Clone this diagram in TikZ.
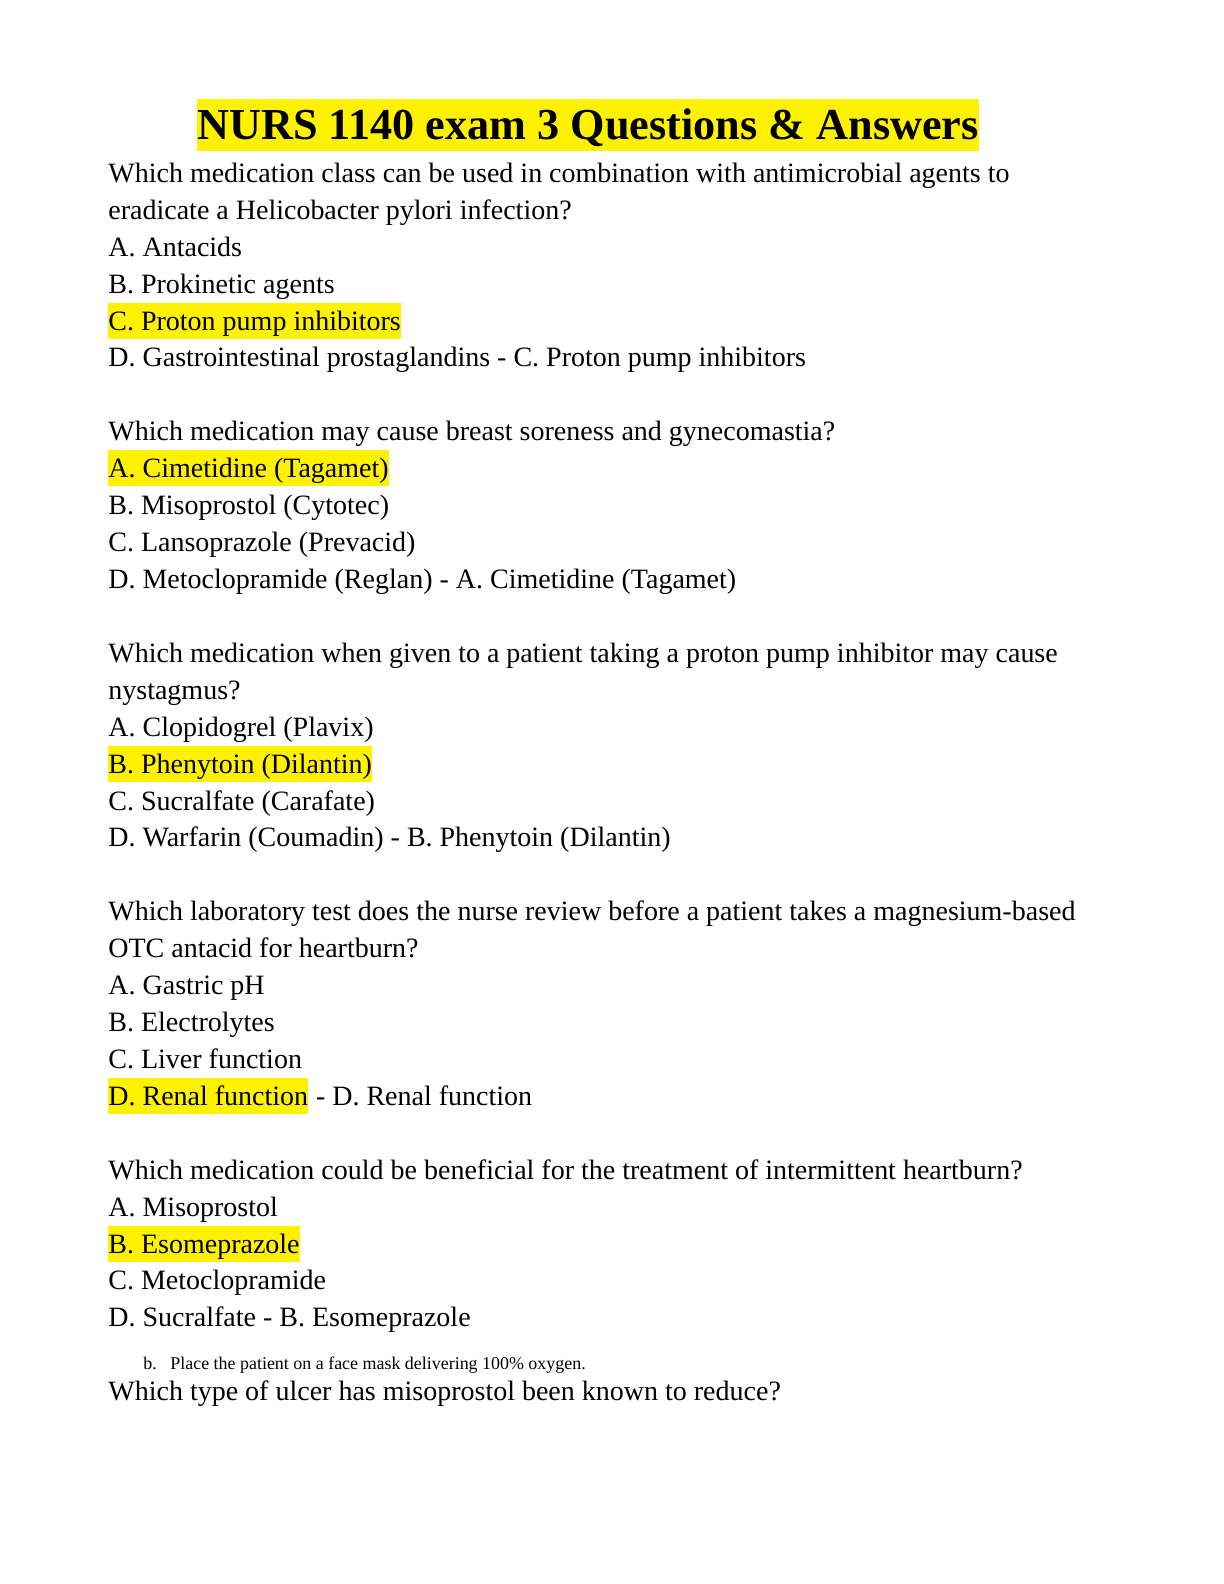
\documentclass[tikz,border=0pt]{standalone}
\usepackage{fontspec}
\setmainfont{Liberation Serif}
\begin{document}
\begin{tikzpicture}[x=0.5bp,y=-0.5bp,
  t/.style={anchor=base west,inner sep=0pt,font=\fontsize{14.05}{16}\selectfont},
  hl/.style={t,fill=yellow,text height=13.5pt,text depth=4.5pt}]
\useasboundingbox (0,0) rectangle (1224,1584);
\node[anchor=base,inner sep=0pt,fill=yellow,text height=20pt,text depth=6pt,font=\fontsize{22.2}{24}\selectfont\bfseries] (title) at (588,139) {NURS 1140 exam 3 Questions \& Answers};
\def\L#1#2#3{\node[t] (#1) at (108,#2) {#3};}
\def\H#1#2#3{\node[hl] (#1) at (108,#2) {#3};}
\L{a1}{182}{Which medication class can be used in combination with antimicrobial agents to}
\L{a2}{219}{eradicate a Helicobacter pylori infection?}
\L{a3}{256}{A. Antacids}
\L{a4}{293}{B. Prokinetic agents}
\H{a5}{330}{C. Proton pump inhibitors}
\L{a6}{366}{D. Gastrointestinal prostaglandins - C. Proton pump inhibitors}
\L{b1}{440}{Which medication may cause breast soreness and gynecomastia?}
\H{b2}{477}{A. Cimetidine (Tagamet)}
\L{b3}{514}{B. Misoprostol (Cytotec)}
\L{b4}{551}{C. Lansoprazole (Prevacid)}
\L{b5}{588}{D. Metoclopramide (Reglan) - A. Cimetidine (Tagamet)}
\L{c1}{662}{Which medication when given to a patient taking a proton pump inhibitor may cause}
\L{c2}{699}{nystagmus?}
\L{c3}{736}{A. Clopidogrel (Plavix)}
\H{c4}{773}{B. Phenytoin (Dilantin)}
\L{c5}{810}{C. Sucralfate (Carafate)}
\L{c6}{846}{D. Warfarin (Coumadin) - B. Phenytoin (Dilantin)}
\L{d1}{920}{Which laboratory test does the nurse review before a patient takes a magnesium-based}
\L{d2}{957}{OTC antacid for heartburn?}
\L{d3}{994}{A. Gastric pH}
\L{d4}{1031}{B. Electrolytes}
\L{d5}{1068}{C. Liver function}
\H{d6}{1105}{D. Renal function}
\node[t] (d6b) at (d6.base east) {\ - D. Renal function};
\L{e1}{1179}{Which medication could be beneficial for the treatment of intermittent heartburn?}
\L{e2}{1216}{A. Misoprostol}
\H{e3}{1253}{B. Esomeprazole}
\L{e4}{1289}{C. Metoclopramide}
\L{e5}{1326}{D. Sucralfate - B. Esomeprazole}
\node[anchor=base west,inner sep=0pt,font=\fontsize{9}{10}\selectfont] (sb) at (143,1369) {b.};
\node[anchor=base west,inner sep=0pt,font=\fontsize{9}{10}\selectfont] (s) at (170,1369) {Place the patient on a face mask delivering 100\% oxygen.};
\L{f1}{1400}{Which type of ulcer has misoprostol been known to reduce?}
\end{tikzpicture}
\end{document}
